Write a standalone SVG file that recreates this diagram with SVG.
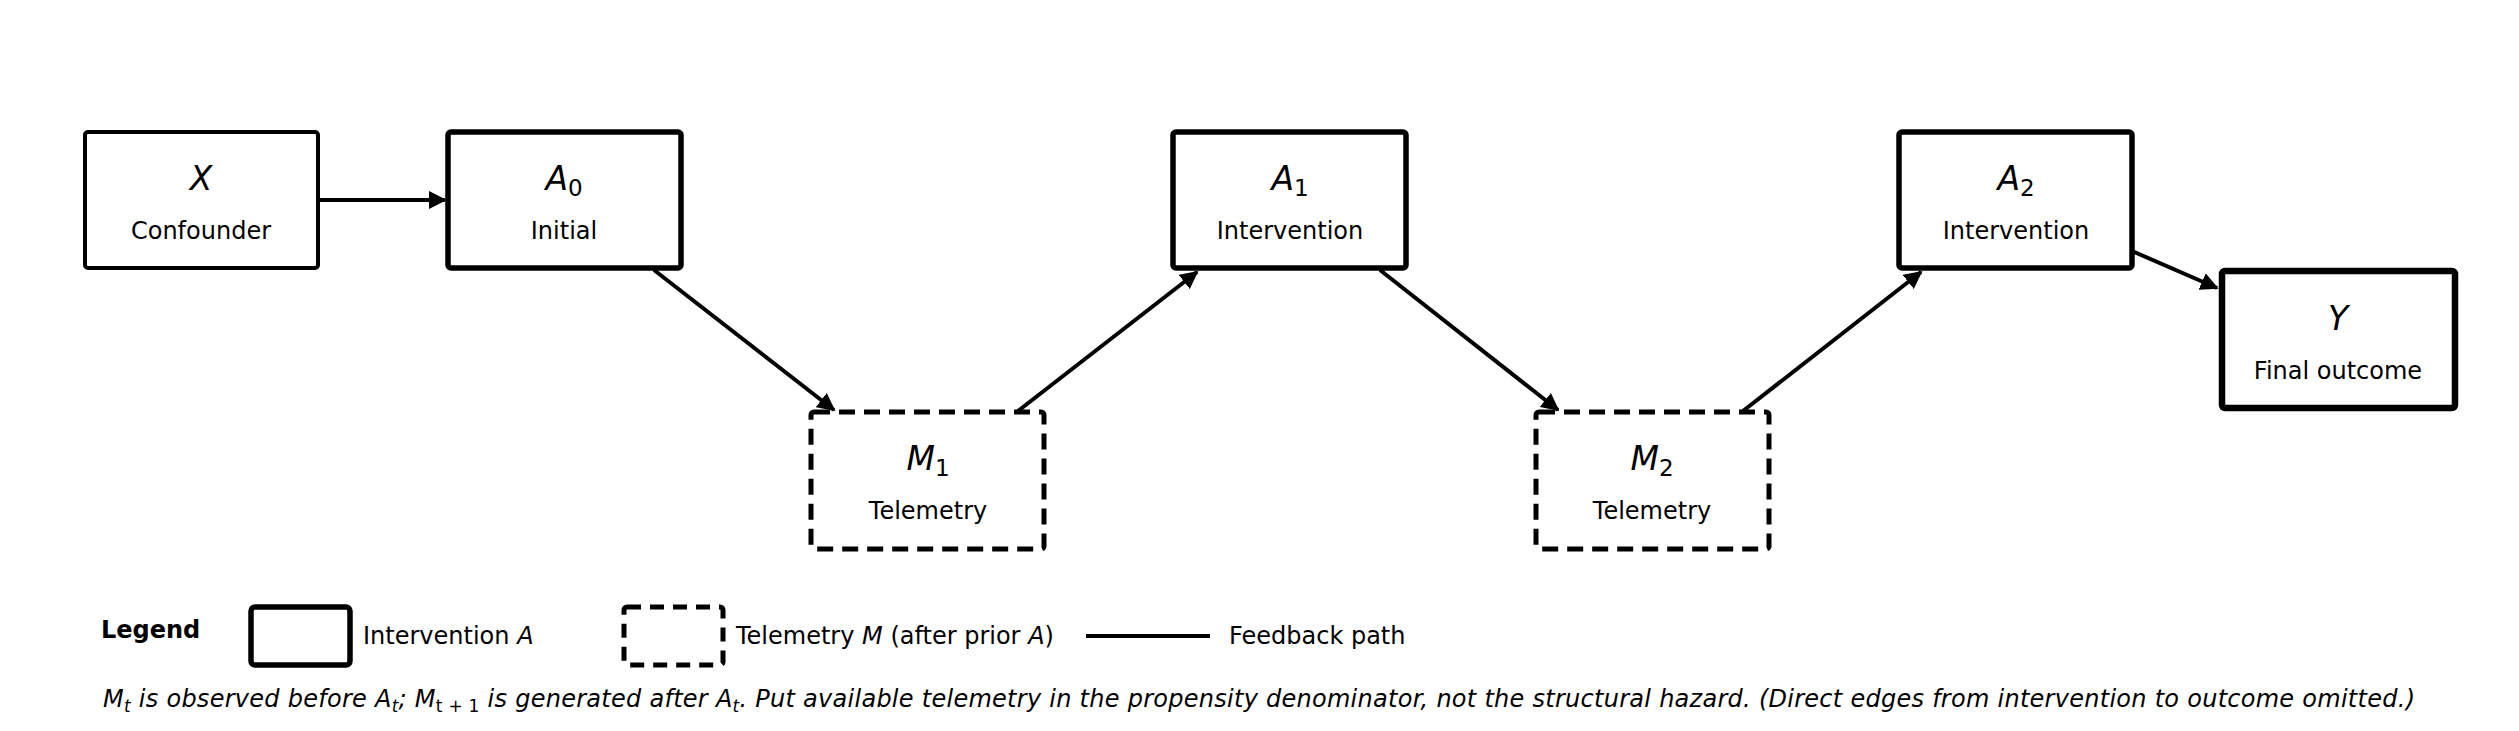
<svg xmlns="http://www.w3.org/2000/svg" width="2519" height="731" viewBox="0 0 2519 731">
<style>
text{font-family:"DejaVu Sans",sans-serif;fill:#000}
.sym{font-size:33px;font-style:italic;text-anchor:middle}
.sub{font-size:24px;text-anchor:middle}
.box{fill:#fff;stroke:#000}
.e{stroke:#000;stroke-width:4;fill:none;marker-end:url(#ah)}
.lg{font-size:24px}
</style>
<defs><marker id="ah" viewBox="0 0 10 10" refX="9" refY="5" markerWidth="4.5" markerHeight="4.5" orient="auto" markerUnits="strokeWidth"><path d="M0,0L10,5L0,10z" fill="#000"/></marker></defs>
<rect width="2519" height="731" fill="#fff"/>
<g id="connectors">
<line class="e" x1="318" y1="200" x2="445" y2="200"/>
<line class="e" x1="654" y1="270" x2="834" y2="410"/>
<line class="e" x1="1018" y1="411" x2="1197" y2="272"/>
<line class="e" x1="1380" y1="270" x2="1558" y2="410"/>
<line class="e" x1="1743" y1="411" x2="1921" y2="272"/>
<line class="e" x1="2132" y1="251" x2="2217" y2="288"/>
</g>
<g id="X"><rect class="box" x="85" y="132" width="233" height="136" rx="3" stroke-width="4"/><text class="sym" x="201" y="190">X</text><text class="sub" x="201" y="239">Confounder</text></g>
<g id="A0"><rect class="box" x="448" y="132" width="233" height="136" rx="3" stroke-width="5.5"/><text class="sym" x="564" y="190">A<tspan font-style="normal" font-size="23" dy="6">0</tspan></text><text class="sub" x="564" y="239">Initial</text></g>
<g id="A1"><rect class="box" x="1173" y="132" width="233" height="136" rx="3" stroke-width="5.5"/><text class="sym" x="1290" y="190">A<tspan font-style="normal" font-size="23" dy="6">1</tspan></text><text class="sub" x="1290" y="239">Intervention</text></g>
<g id="A2"><rect class="box" x="1899" y="132" width="233" height="136" rx="3" stroke-width="5.5"/><text class="sym" x="2016" y="190">A<tspan font-style="normal" font-size="23" dy="6">2</tspan></text><text class="sub" x="2016" y="239">Intervention</text></g>
<g id="Y"><rect class="box" x="2222" y="271" width="233" height="137" rx="3" stroke-width="6.5"/><text class="sym" x="2338" y="330">Y</text><text class="sub" x="2338" y="379">Final outcome</text></g>
<g id="M1"><rect class="box" x="811" y="412" width="233" height="137" rx="3" stroke-width="5" stroke-dasharray="16,9"/><text class="sym" x="928" y="470">M<tspan font-style="normal" font-size="23" dy="6">1</tspan></text><text class="sub" x="928" y="519">Telemetry</text></g>
<g id="M2"><rect class="box" x="1536" y="412" width="233" height="137" rx="3" stroke-width="5" stroke-dasharray="16,9"/><text class="sym" x="1652" y="470">M<tspan font-style="normal" font-size="23" dy="6">2</tspan></text><text class="sub" x="1652" y="519">Telemetry</text></g>
<g id="legend">
<text x="101" y="638" font-size="24" font-weight="bold">Legend</text>
<rect class="box" x="251" y="607" width="99" height="58" rx="4" stroke-width="5.5"/>
<text class="lg" x="363" y="644">Intervention <tspan font-style="italic">A</tspan></text>
<rect class="box" x="624" y="607" width="99" height="58" rx="3" stroke-width="5" stroke-dasharray="14,9"/>
<text class="lg" x="736" y="644">Telemetry <tspan font-style="italic">M</tspan> (after prior <tspan font-style="italic">A</tspan>)</text>
<line x1="1086" y1="636" x2="1210" y2="636" stroke="#000" stroke-width="4"/>
<text class="lg" x="1229" y="644">Feedback path</text>
</g>
<text x="103" y="707" font-size="24" font-style="italic" textLength="2312">M<tspan font-size="17" dy="5">t</tspan><tspan dy="-5"> is observed before A</tspan><tspan font-size="17" dy="5">t</tspan><tspan dy="-5">; M</tspan><tspan font-size="17" dy="5" font-style="normal">t + 1</tspan><tspan dy="-5"> is generated after A</tspan><tspan font-size="17" dy="5">t</tspan><tspan dy="-5">. Put available telemetry in the propensity denominator, not the structural hazard. (Direct edges from intervention to outcome omitted.)</tspan></text>
</svg>
